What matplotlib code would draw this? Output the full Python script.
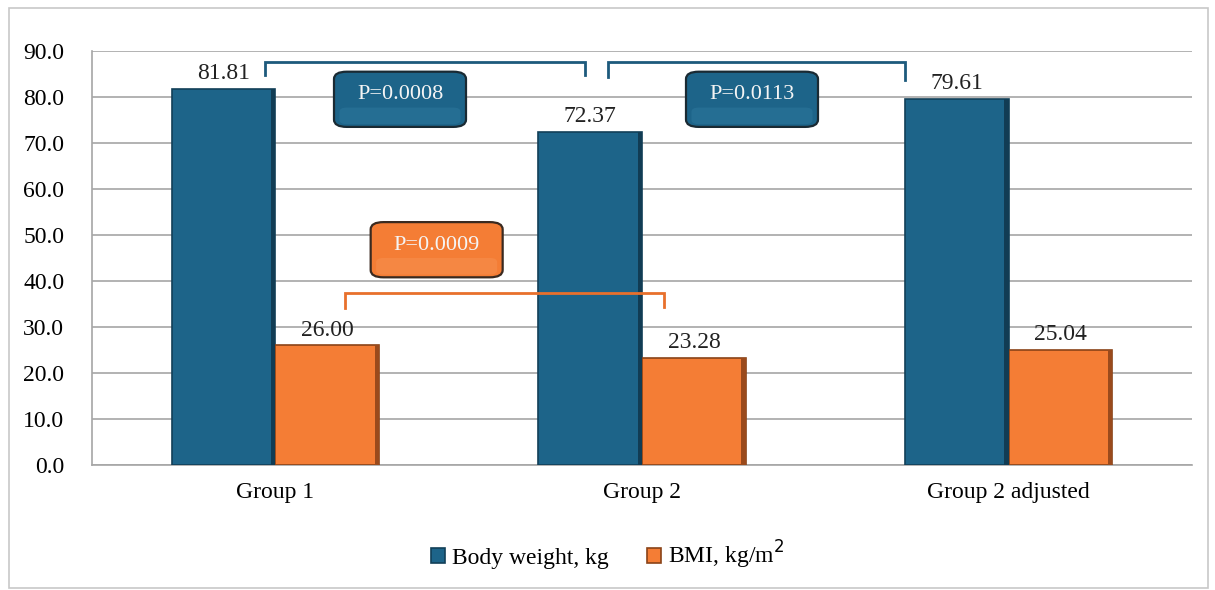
import numpy as np
import matplotlib
matplotlib.use("Agg")
import matplotlib.pyplot as plt
from matplotlib.patches import FancyBboxPatch, Rectangle

plt.rcParams['font.family'] = ['Liberation Serif', 'DejaVu Serif']

groups = ['Group 1', 'Group 2', 'Group 2 adjusted']
weight = [81.81, 72.37, 79.61]
bmi = [26.00, 23.28, 25.04]
series_names = ['Body weight, kg', 'BMI, kg/m$^2$']
yticks = np.arange(0, 100, 10)

blue = '#1d6489'
orange = '#f47d35'
w = 0.283

fig = plt.figure(figsize=(12.15, 5.9), dpi=100)
ax = fig.add_axes([92/1215, 1-465/590, 1100/1215, 414/590])

x = np.arange(len(groups))
b1 = ax.bar(x - w/2, weight, w, color=blue, edgecolor='#123f58', linewidth=1.2,
            label=series_names[0], zorder=3)
b2 = ax.bar(x + w/2, bmi, w, color=orange, edgecolor='#8a4318', linewidth=1.2,
            label=series_names[1], zorder=3)

# bevel look: darker strip on the right side of each bar
for bars, dark in ((b1, '#113c54'), (b2, '#9a4a1c')):
    for r in bars:
        ax.bar(r.get_x() + r.get_width() - 0.006, r.get_height(), 0.012, color=dark,
               zorder=3.5, linewidth=0)

for bars, vals in ((b1, weight), (b2, bmi)):
    for r, v in zip(bars, vals):
        ax.text(r.get_x() + r.get_width()/2, v + 1.0, f'{v:.2f}', ha='center', va='bottom',
                fontsize=17, color='#222222', zorder=4)

ax.set_xlim(-0.5, 2.5)
ax.set_ylim(0, 90)
ax.set_yticks(yticks)
ax.set_yticklabels([f'{t:.1f}' for t in yticks], fontsize=17)
ax.set_xticks(x)
ax.set_xticklabels(groups, fontsize=17)
ax.tick_params(axis='y', length=0, pad=20)
ax.tick_params(axis='x', length=0, pad=12)
ax.yaxis.grid(True, color='#a6a6a6', linewidth=1.2, zorder=0)
for s in ('top', 'right'):
    ax.spines[s].set_visible(False)
ax.spines['left'].set_color('#a6a6a6')
ax.spines['bottom'].set_color('#a6a6a6')
ax.spines['left'].set_linewidth(1.2)
ax.spines['bottom'].set_linewidth(1.2)


def bracket(x0, x1, ytop, yl, yr, color):
    ax.plot([x0, x0, x1, x1], [yl, ytop, ytop, yr], color=color, lw=2, zorder=5,
            clip_on=False, solid_joinstyle='miter')


def pbox(xc, yc, text, face, light, edge):
    bw, bh = 0.36, 12.0
    p = FancyBboxPatch((xc - bw/2, yc - bh/2), bw, bh,
                       boxstyle='round,pad=0,rounding_size=0.035', mutation_aspect=45,
                       facecolor=face, edgecolor=edge, linewidth=1.6, zorder=6)
    ax.add_patch(p)
    # lighter lower band for the bevel look
    q = FancyBboxPatch((xc - bw/2 + 0.015, yc - bh/2 + 0.6), bw - 0.03, bh * 0.3,
                       boxstyle='round,pad=0,rounding_size=0.02', mutation_aspect=45,
                       facecolor=light, edgecolor='none', alpha=0.3, zorder=6.2)
    ax.add_patch(q)
    ax.text(xc, yc + 1.0, text, ha='center', va='center', color='#f4f4f4',
            fontsize=16, zorder=7)


bracket(-0.027, 0.845, 87.6, 84.8, 84.8, '#1d5a7c')
bracket(0.908, 1.718, 87.6, 84.4, 83.8, '#1d5a7c')
bracket(0.191, 1.061, 37.4, 34.2, 34.4, '#e8702c')

pbox(0.34, 79.5, 'P=0.0008', blue, '#3a87ad', '#1a2a33')
pbox(1.30, 79.5, 'P=0.0113', blue, '#3a87ad', '#1a2a33')
pbox(0.44, 46.8, 'P=0.0009', orange, '#f9a066', '#3a2a20')

fig.legend(handles=[b1, b2], labels=series_names, loc='center', bbox_to_anchor=(0.5, 1-555/590),
           ncol=2, frameon=False, fontsize=17, handlelength=0.6, handleheight=0.6,
           handletextpad=0.3, columnspacing=1.6)

fig.patches.append(Rectangle((9/1215, 2/590), 1199/1215, 580/590, transform=fig.transFigure,
                             fill=False, edgecolor='#c8c8c8', linewidth=1.2))

fig.savefig('out.png', dpi=100)
